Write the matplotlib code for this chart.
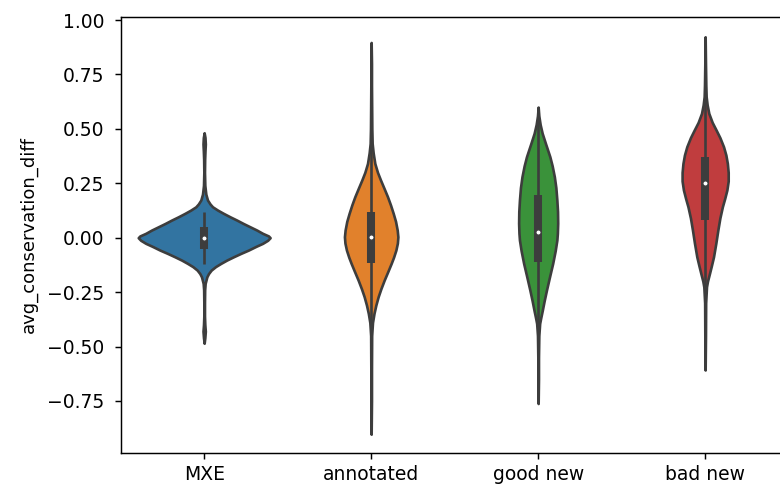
import numpy as np
import matplotlib
matplotlib.use("Agg")
import matplotlib.pyplot as plt

categories = ["MXE", "annotated", "good new", "bad new"]
colors = ["#3274a1", "#e1812c", "#3a923a", "#c03d3e"]
gray = "#3d3d3d"

# density outlines: value -> half width (category units)
mxe_y = [-0.485, -0.46, -0.43, -0.40, -0.36, -0.30, -0.24, -0.21, -0.18, -0.165, -0.149,
         -0.133, -0.118, -0.103, -0.088, -0.072, -0.057, -0.04, -0.026, -0.012, 0.0,
         0.008, 0.02, 0.035, 0.05, 0.065, 0.081, 0.096, 0.112, 0.127, 0.142, 0.155,
         0.173, 0.20, 0.24, 0.30, 0.36, 0.40, 0.43, 0.46, 0.482]
mxe_w = [0.0, 0.004, 0.007, 0.004, 0.002, 0.002, 0.003, 0.006, 0.016, 0.026, 0.042,
         0.068, 0.10, 0.135, 0.175, 0.22, 0.265, 0.31, 0.35, 0.38, 0.395,
         0.385, 0.35, 0.315, 0.275, 0.235, 0.195, 0.155, 0.115, 0.08, 0.05, 0.035,
         0.02, 0.01, 0.004, 0.002, 0.003, 0.005, 0.007, 0.005, 0.0]

ann_y = [-0.903, -0.75, -0.60, -0.45, -0.39, -0.348, -0.31, -0.271, -0.235, -0.195, -0.155,
         -0.118, -0.09, -0.057, -0.025, 0.004, 0.035, 0.075, 0.112, 0.15, 0.188, 0.225,
         0.265, 0.30, 0.341, 0.39, 0.433, 0.50, 0.60, 0.70, 0.80, 0.897]
ann_w = [0.0, 0.002, 0.002, 0.003, 0.008, 0.017, 0.028, 0.042, 0.058, 0.078, 0.10,
         0.12, 0.134, 0.148, 0.157, 0.16, 0.156, 0.146, 0.132, 0.116, 0.098, 0.078,
         0.056, 0.038, 0.022, 0.012, 0.006, 0.004, 0.003, 0.002, 0.002, 0.0]

good_y = [-0.762, -0.65, -0.55, -0.45, -0.394, -0.37, -0.333, -0.29, -0.24, -0.18, -0.118,
          -0.06, -0.011, 0.02, 0.066, 0.12, 0.173, 0.23, 0.28, 0.33, 0.372, 0.40, 0.43,
          0.48, 0.52, 0.56, 0.60]
good_w = [0.0, 0.002, 0.002, 0.004, 0.009, 0.015, 0.025, 0.036, 0.05, 0.068, 0.087,
          0.102, 0.112, 0.115, 0.117, 0.116, 0.112, 0.106, 0.097, 0.084, 0.07, 0.058, 0.045,
          0.024, 0.012, 0.004, 0.0]

bad_y = [-0.608, -0.45, -0.30, -0.226, -0.2, -0.164, -0.13, -0.088, -0.025, 0.035, 0.09,
         0.142, 0.18, 0.219, 0.26, 0.30, 0.341, 0.38, 0.418, 0.46, 0.494, 0.53, 0.571,
         0.61, 0.648, 0.70, 0.80, 0.923]
bad_w = [0.0, 0.002, 0.003, 0.008, 0.014, 0.026, 0.037, 0.05, 0.064, 0.076, 0.088,
         0.103, 0.117, 0.13, 0.138, 0.138, 0.133, 0.124, 0.11, 0.088, 0.066, 0.042, 0.022,
         0.012, 0.006, 0.004, 0.002, 0.0]

# inner box stats
q1 = [-0.05, -0.115, -0.11, 0.08]
medians = [0.0, 0.004, 0.028, 0.25]
q3 = [0.05, 0.12, 0.195, 0.37]
whisk_lo = [-0.12, -0.46, -0.57, -0.35]
whisk_hi = [0.12, 0.47, 0.6, 0.8]

outlines = [(mxe_y, mxe_w), (ann_y, ann_w), (good_y, good_w), (bad_y, bad_w)]

fig = plt.figure(figsize=(7.8, 4.88), dpi=100)
ax = fig.add_axes([0.1547, 0.0723, 0.8564, 0.8929])

positions = np.arange(len(categories))
stats = []
widths = []
for (ys, ws), med in zip(outlines, medians):
    ys = np.array(ys)
    ws = np.array(ws)
    stats.append(dict(coords=ys, vals=ws, mean=med, median=med, min=ys.min(), max=ys.max()))
    widths.append(2 * ws.max())

parts = ax.violin(stats, positions=positions, widths=widths,
                  showmeans=False, showextrema=False, showmedians=False)
for body, c in zip(parts["bodies"], colors):
    body.set_facecolor(c)
    body.set_edgecolor(gray)
    body.set_linewidth(1.9)
    body.set_alpha(1)
    body.set_joinstyle("round")

for i in range(len(categories)):
    ax.plot([i, i], [whisk_lo[i], whisk_hi[i]], color=gray, lw=1.9, solid_capstyle="butt", zorder=2)
    ax.plot([i, i], [q1[i], q3[i]], color=gray, lw=5.8, solid_capstyle="butt", zorder=2)
ax.scatter(positions, medians, s=15, color="white", edgecolor=gray, linewidth=1.0, zorder=3)

ax.set_xlim(-0.5, 3.5)
ax.set_ylim(-0.988, 1.014)
ax.set_yticks(np.arange(-0.75, 1.01, 0.25))
ax.set_xticks(positions)
ax.set_xticklabels(categories)
ax.set_ylabel("avg_conservation_diff", fontsize=13, labelpad=7)
ax.tick_params(labelsize=13.5, length=4.5, width=1.05)
ax.tick_params(axis="y", pad=7)
ax.tick_params(axis="x", pad=4.5)
for s in ax.spines.values():
    s.set_linewidth(1.05)

fig.savefig("out.png", dpi=100)
